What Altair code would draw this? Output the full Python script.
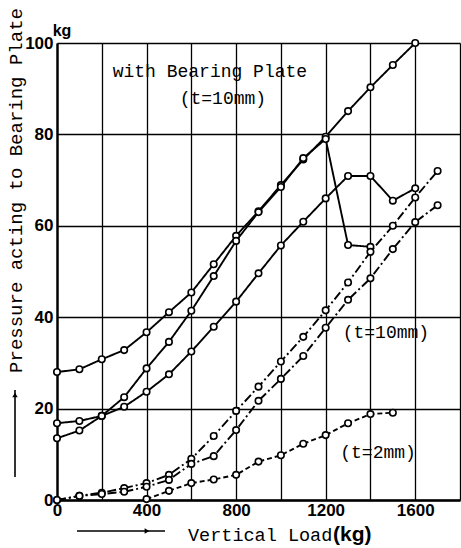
import altair as alt
import pandas as pd

# Vertical load (kg) and pressure acting on the bearing plate (kg) for each test series
load_a = [0, 100, 200, 300, 400, 500, 600, 700, 800, 900, 1000, 1100, 1200, 1300, 1400, 1500, 1600]
pressure_a = [28, 28.6, 30.8, 32.8, 36.7, 41.1, 45.4, 51.6, 57.8, 63.2, 68.9, 74.5, 79.5, 85.1, 90.3, 95.2, 100]

load_b = [0, 100, 200, 300, 400, 500, 600, 700, 800, 900, 1000, 1100, 1200, 1300, 1400, 1500, 1600]
pressure_b = [16.8, 17.3, 18.4, 20.4, 23.7, 27.5, 32.5, 37.9, 43.4, 49.6, 55.7, 60.9, 66.0, 70.9, 70.9, 65.5, 68.2]

load_c = [0, 100, 200, 300, 400, 500, 600, 700, 800, 900, 1000, 1100, 1200, 1300, 1400]
pressure_c = [13.5, 15.2, 18.4, 22.5, 28.8, 34.6, 41.4, 49.0, 56.7, 63.0, 68.5, 74.8, 79.0, 55.8, 55.4]

load_d = [0, 100, 200, 300, 400, 500, 600, 700, 800, 900, 1000, 1100, 1200, 1300, 1400, 1500, 1600, 1700]
pressure_d = [0, 0.9, 1.6, 2.6, 3.7, 5.5, 9.0, 14.0, 19.5, 24.8, 30.3, 35.7, 41.5, 47.6, 54.3, 60.0, 66.2, 72.0]

load_e = [0, 100, 200, 300, 400, 500, 600, 700, 800, 900, 1000, 1100, 1200, 1300, 1400, 1500, 1600, 1700]
pressure_e = [0, 0.9, 1.3, 1.8, 2.9, 4.4, 7.9, 9.6, 15.3, 21.7, 26.5, 31.5, 37.7, 43.8, 48.5, 54.9, 60.8, 64.5]

load_f = [400, 500, 600, 700, 800, 900, 1000, 1100, 1200, 1300, 1400, 1500]
pressure_f = [0.2, 2.0, 3.7, 4.5, 5.5, 8.4, 9.8, 12.3, 14.2, 16.8, 18.8, 19.1]

x_grid = [0, 200, 400, 600, 800, 1000, 1200, 1400, 1600, 1800]
y_grid = [0, 20, 40, 60, 80, 100]

series = [
    ("A", "solid", load_a, pressure_a),
    ("B", "solid", load_b, pressure_b),
    ("C", "solid", load_c, pressure_c),
    ("D", "dashdot", load_d, pressure_d),
    ("E", "dashdot", load_e, pressure_e),
    ("F", "dashed", load_f, pressure_f),
]
rows = []
for name, style, loads, values in series:
    for i, (ld, p) in enumerate(zip(loads, values)):
        rows.append({"series": name, "style": style, "load": ld, "pressure": p, "order": i})
df = pd.DataFrame(rows)

MONO = "Liberation Mono"
SANS = "Liberation Sans"

x_enc = alt.X(
    "load:Q",
    scale=alt.Scale(domain=[0, 1800], nice=False, zero=False),
    axis=alt.Axis(
        values=x_grid,
        labelExpr="datum.value % 400 == 0 && datum.value <= 1600 ? datum.value : ''",
        title=None,
        grid=True, gridColor="black", gridWidth=1.3, gridOpacity=1,
        domainColor="black", domainWidth=2.4,
        ticks=False, labelFlush=False,
        labelFont=SANS, labelFontWeight="bold", labelFontSize=17,
        labelColor="black", labelPadding=2,
    ),
)
y_enc = alt.Y(
    "pressure:Q",
    scale=alt.Scale(domain=[0, 100], nice=False),
    axis=alt.Axis(
        values=y_grid,
        title="Pressure acting to Bearing Plate",
        titleFont=MONO, titleFontSize=19, titleFontWeight="normal", titleColor="black",
        titleX=-42, titleY=147, titleAngle=-90, titleAlign="center", titleBaseline="middle",
        grid=True, gridColor="black", gridWidth=1.3, gridOpacity=1,
        domainColor="black", domainWidth=2.4,
        ticks=False, labelFlush=False,
        labelFont=SANS, labelFontWeight="bold", labelFontSize=17,
        labelColor="black", labelPadding=4,
    ),
)

dash = alt.StrokeDash(
    "style:N",
    scale=alt.Scale(domain=["solid", "dashdot", "dashed"], range=[[1, 0], [9, 3, 2, 3], [5, 3]]),
    legend=None,
)

lines = alt.Chart(df).mark_line(color="black", strokeWidth=1.9).encode(
    x=x_enc, y=y_enc, detail="series:N", strokeDash=dash, order="order:Q"
)
points = alt.Chart(df).mark_point(
    shape="circle", fill="white", fillOpacity=1, stroke="black", strokeWidth=1.6, size=42, opacity=1
).encode(x="load:Q", y="pressure:Q")

one = pd.DataFrame({"k": [0]})


def note(text, load, pressure):
    return alt.Chart(one).mark_text(
        text=text, font=MONO, fontSize=18, color="black", align="center", baseline="middle"
    ).encode(x=alt.datum(load), y=alt.datum(pressure))


notes = [
    note("with Bearing Plate", 683, 93.7),
    note("(t=10mm)", 741, 87.7),
    note("(t=10mm)", 1469, 36.5),
    note("(t=2mm)", 1434, 10.3),
]

unit_y = alt.Chart(one).mark_text(
    text="kg", font=SANS, fontWeight="bold", fontSize=16, color="black", align="center", baseline="middle"
).encode(x=alt.value(5), y=alt.value(-12))

x_title = alt.Chart(one).mark_text(
    text="Vertical Load", font=MONO, fontSize=18.5, color="black", align="left", baseline="middle"
).encode(x=alt.value(131), y=alt.value(492))
x_unit = alt.Chart(one).mark_text(
    text="(kg)", font=SANS, fontWeight="bold", fontSize=21, color="black", align="left", baseline="middle"
).encode(x=alt.value(276), y=alt.value(492))

# direction arrows beside the axes
arrow_x = alt.Chart(one).mark_rule(color="black", strokeWidth=1.6).encode(
    x=alt.value(20), x2=alt.value(108), y=alt.value(488)
)
arrow_x_head = alt.Chart(one).mark_point(
    shape="triangle-right", filled=True, color="black", size=30, opacity=1
).encode(x=alt.value(90), y=alt.value(488))
arrow_y = alt.Chart(one).mark_rule(color="black", strokeWidth=1.6).encode(
    x=alt.value(-42), y=alt.value(347), y2=alt.value(434)
)
arrow_y_head = alt.Chart(one).mark_point(
    shape="triangle-up", filled=True, color="black", size=30, opacity=1
).encode(x=alt.value(-42), y=alt.value(352))

chart = alt.layer(
    lines, points, *notes, unit_y, x_title, x_unit, arrow_x, arrow_x_head, arrow_y, arrow_y_head
).properties(
    width=403,
    height=457,
    autosize=alt.AutoSizeParams(type="none"),
    padding={"left": 57, "top": 43, "right": 1, "bottom": 48},
    background="white",
).configure_view(stroke=None)

chart.save("out.html", embed_options={"renderer": "svg", "actions": False})
